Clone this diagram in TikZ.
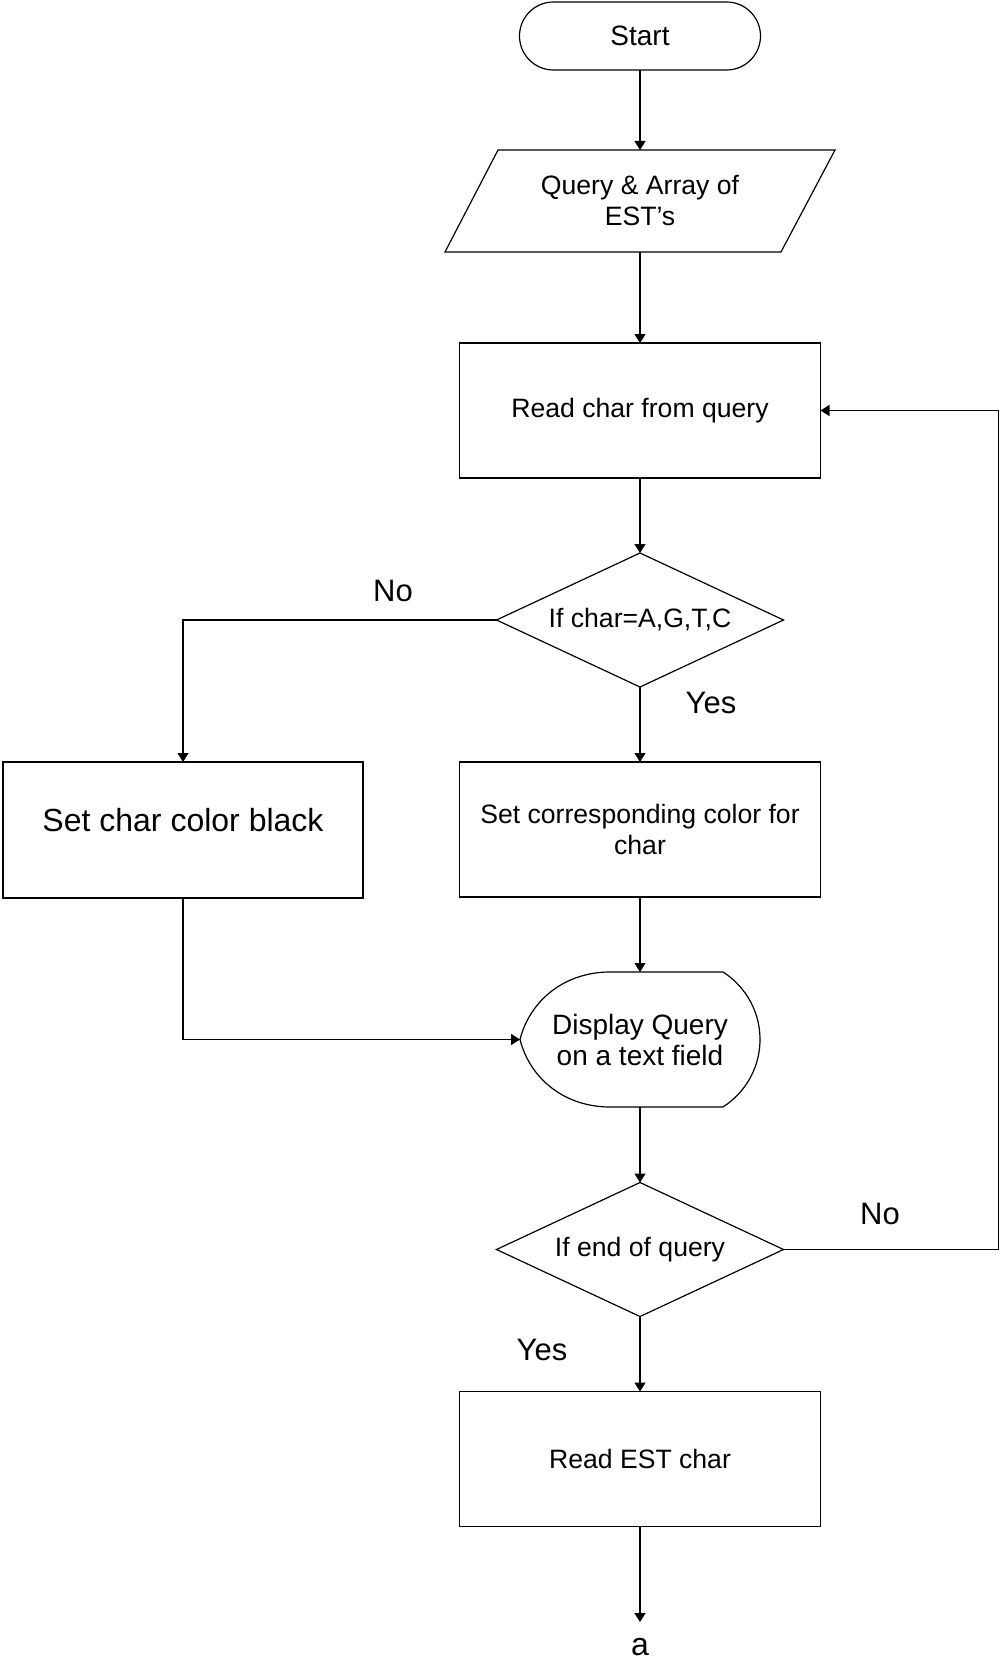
\documentclass[tikz,border=0pt]{standalone}
\usepackage{fontspec}
\setmainfont{Liberation Sans}
\usetikzlibrary{shapes.geometric,arrows.meta}
\begin{document}
\begin{tikzpicture}[x=0.5pt,y=-0.5pt,
  line width=0.6pt,
  every node/.style={inner sep=0pt, outer sep=0pt},
  txt/.style={font=\fontsize{13.3}{15.5}\selectfont, align=center},
  procbox/.style={draw, txt, minimum width=180.5pt, minimum height=67.5pt},
  decision/.style={draw, diamond, txt, minimum width=143.5pt, minimum height=67pt, aspect=2.14},
  term/.style={draw, txt, rounded corners=17pt, minimum width=120.5pt, minimum height=34pt},
  lbl/.style={font=\fontsize{15.5}{18}\selectfont},
  arr/.style={-{Triangle[width=5.5pt,length=4.5pt]}},
]
\useasboundingbox (0,0) rectangle (1000,1664);

% terminal and input
\node[term, font=\fontsize{14}{16}\selectfont] (start) at (640,36) {Start};
\node[txt, minimum width=195pt, minimum height=51pt] (inp) at (640,201) {Query \& Array of\\EST's};
\draw (498,150) -- (835,150) -- (781,252) -- (445,252) -- cycle;

% main loop
\node[procbox] (read) at (640,410.5) {Read char from query};
\node[decision] (dec1) at (640,620) {If char=A,G,T,C};
\node[procbox, minimum width=180pt, minimum height=68pt,
      font=\fontsize{16}{19}\selectfont, text depth=10pt] (black) at (183,830) {Set char color black};
\node[procbox] (setc) at (640,829.5) {Set corresponding color for\\char};

% display symbol
\node[txt, font=\fontsize{14}{15.5}\selectfont, minimum width=120pt, minimum height=67.5pt] (disp) at (640,1039.5) {Display Query\\on a text field};
\draw (610,972) -- (723,972) arc[start angle=57.5, end angle=-57.5, radius=40pt]
  -- (610,1107) .. controls (565,1107) and (530,1079) .. (520,1039.5)
  .. controls (530,1000) and (565,972) .. (610,972) -- cycle;

\node[decision] (dec2) at (640,1249.5) {If end of query};
\node[procbox] (est) at (640,1459) {Read EST char};
\node[font=\fontsize{16}{19}\selectfont, text height=8.5pt, text depth=0pt] (a) at (640,1647) {a};

% branch labels
\node[lbl] (no1) at (393,591) {No};
\node[lbl] (yes1) at (711,703) {Yes};
\node[lbl] (no2) at (880,1214) {No};
\node[lbl] (yes2) at (542,1350) {Yes};

% connectors
\draw[arr] (start.south) -- (inp.north);
\draw[arr] (inp.south) -- (read.north);
\draw[arr] (read.south) -- (dec1.north);
\draw[arr] (dec1.south) -- (setc.north);
\draw[arr] (dec1.west) -| (black.north);
\draw[arr] (setc.south) -- (disp.north);
\draw[arr] (black.south) |- (disp.west);
\draw[arr] (disp.south) -- (dec2.north);
\draw[arr] (dec2.south) -- (est.north);
\coordinate (rx) at (998.5,0);
\draw[arr] (dec2.east) -- (dec2.east -| rx) |- (read.east);
\draw[arr, shorten >=8.25pt] (est.south) -- (a.north);
\end{tikzpicture}
\end{document}
